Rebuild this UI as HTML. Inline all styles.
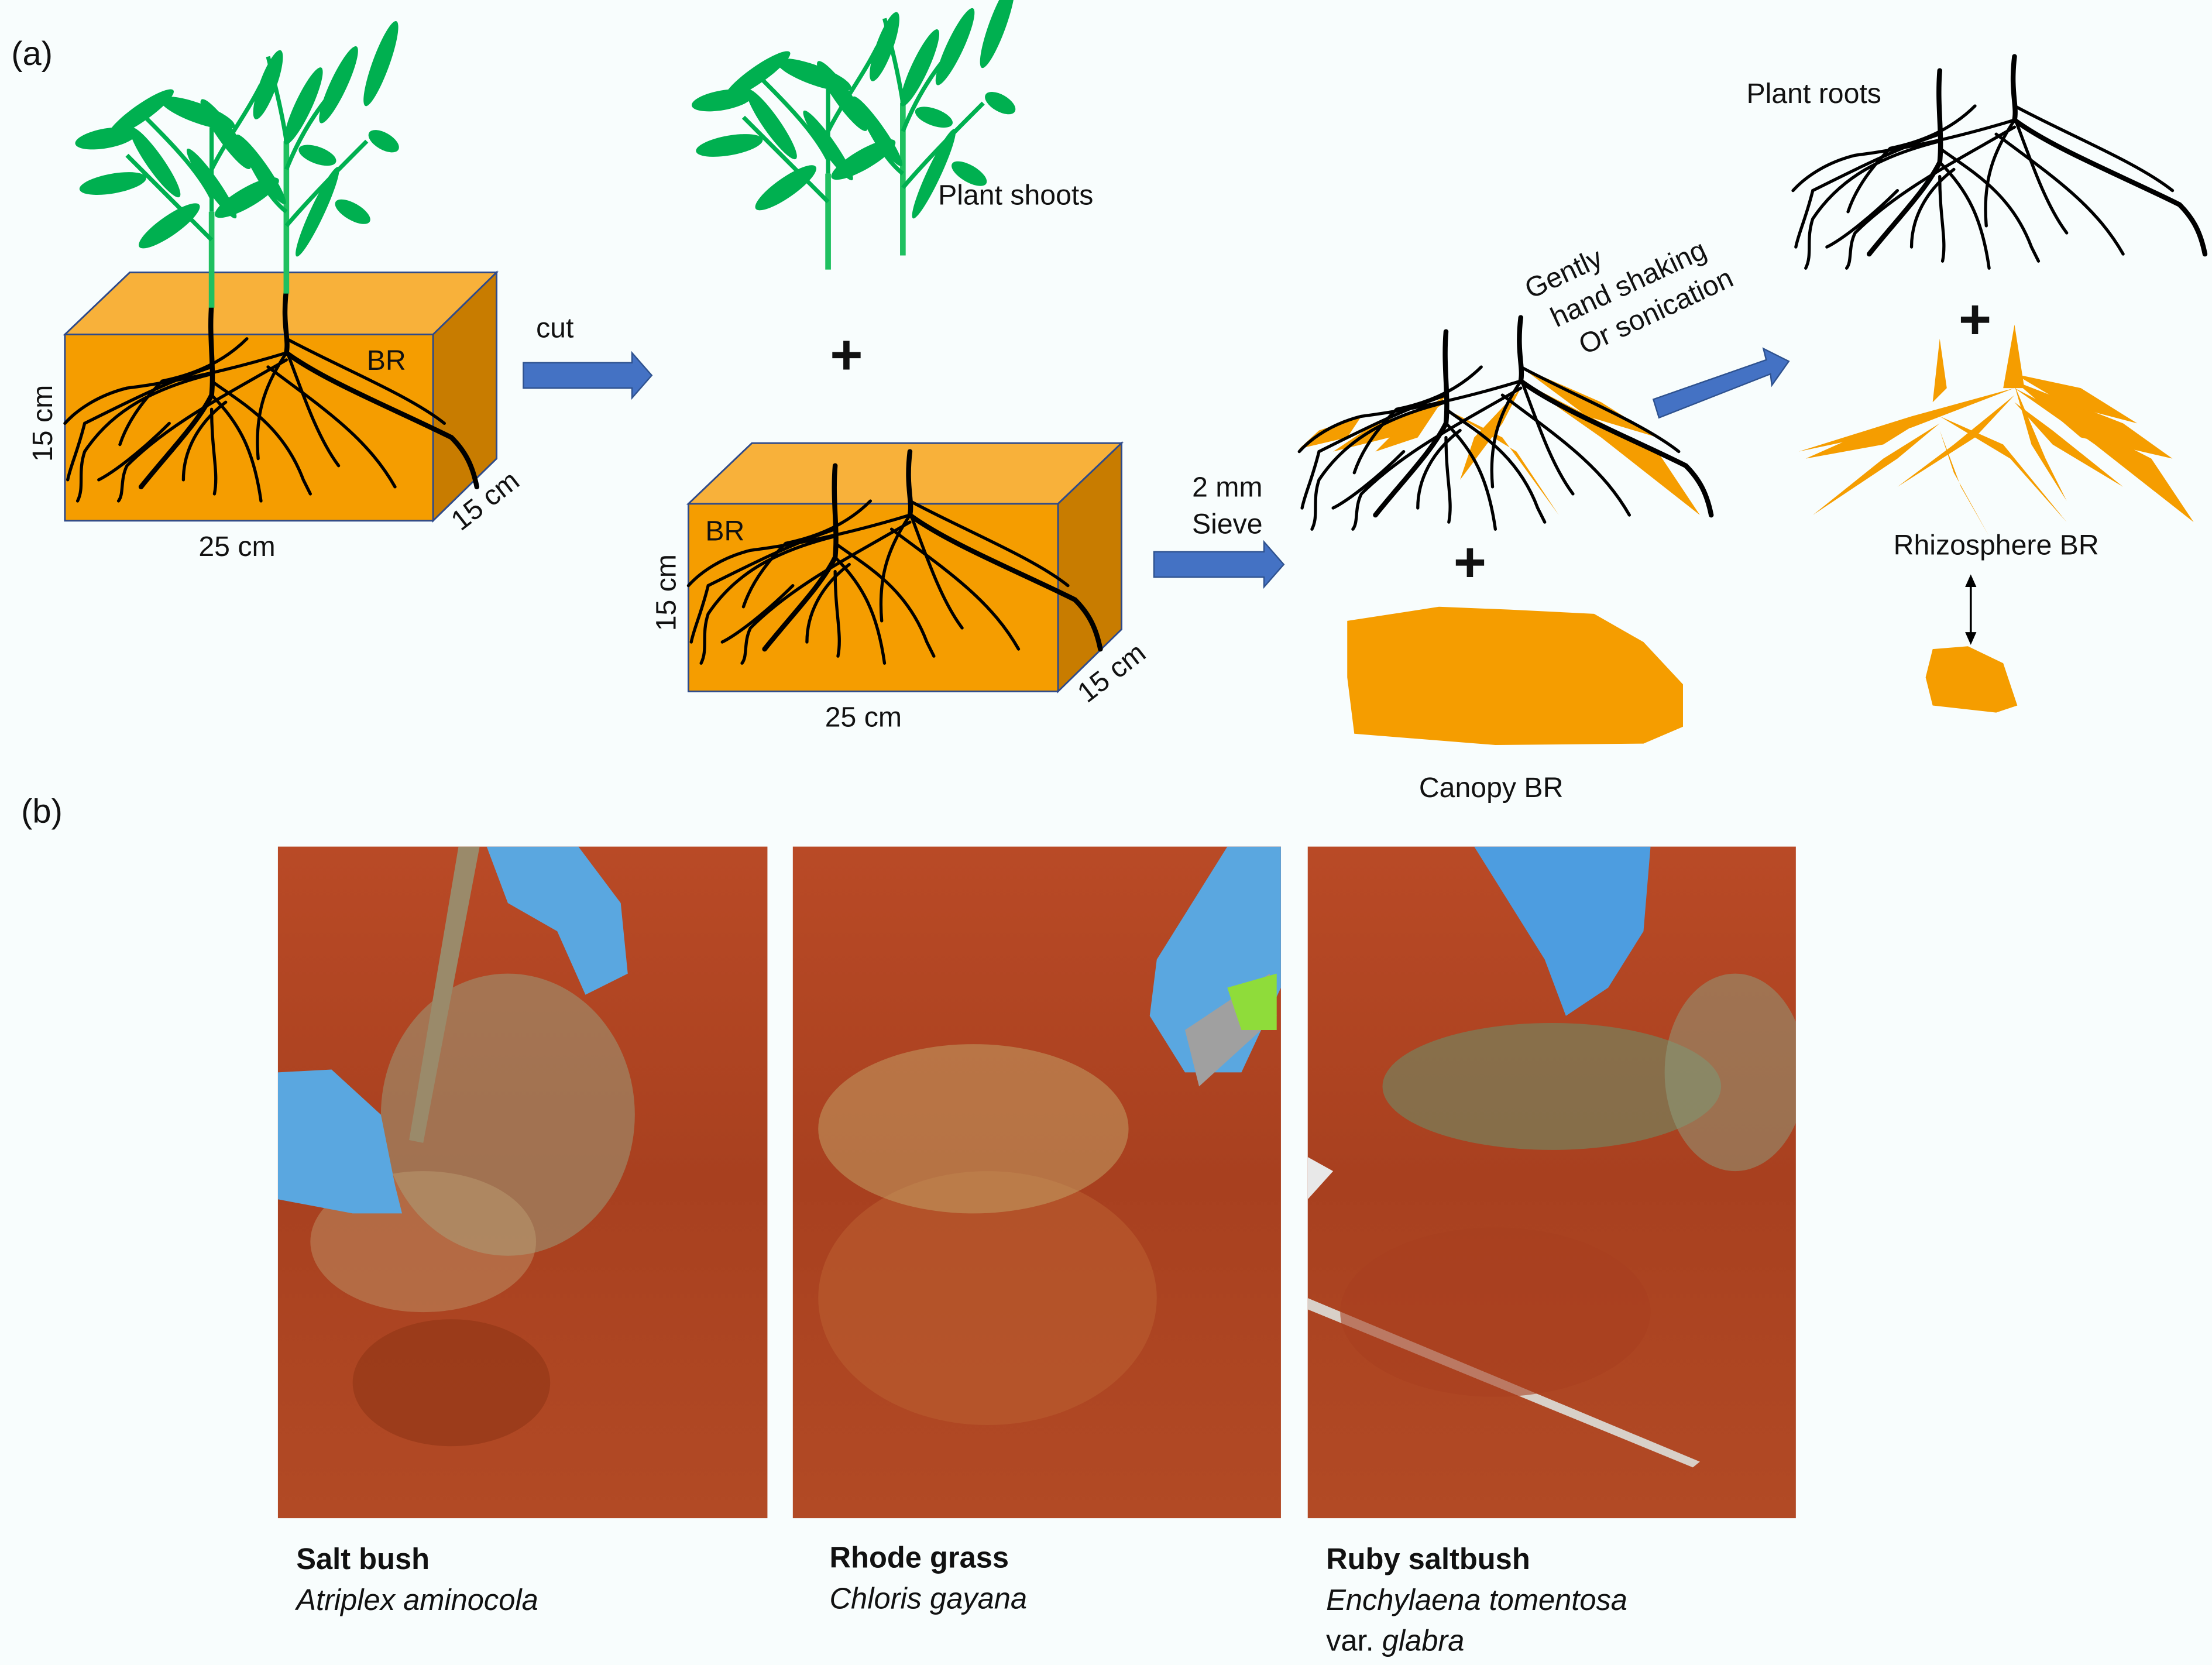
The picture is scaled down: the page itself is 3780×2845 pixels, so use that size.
<!DOCTYPE html>
<html><head><meta charset="utf-8"><style>
html,body{margin:0;padding:0;background:#f8fdfd;}
svg{display:block;}
text{font-family:"Liberation Sans",sans-serif;fill:#111;}
</style></head><body>
<svg width="3780" height="2845" viewBox="0 0 1568 1180" xmlns="http://www.w3.org/2000/svg">
<defs>
<g id="roots" fill="none" stroke="#000" stroke-width="2.2" stroke-linecap="round">
<path d="M150,215 C148,240 152,260 150,280 C140,300 120,320 100,345" stroke-width="3.5"/>
<path d="M150,280 C170,300 180,320 185,355"/>
<path d="M150,260 C120,270 90,285 60,300 C55,320 50,330 48,340"/>
<path d="M150,265 C110,275 80,290 60,320 C55,335 60,345 55,355"/>
<path d="M150,270 C170,285 200,300 215,340 L220,350"/>
<path d="M203,205 C200,230 205,240 203,250 C230,270 280,290 320,310 C330,320 335,330 338,345" stroke-width="3.5"/>
<path d="M203,250 C190,270 180,290 183,325"/>
<path d="M203,240 C240,260 290,280 315,300"/>
<path d="M203,250 C170,260 130,270 90,275 C70,280 55,290 46,300"/>
<path d="M203,255 C160,280 120,300 90,330 C85,340 88,350 84,355"/>
<path d="M203,248 C215,280 225,310 240,330"/>
<path d="M160,285 C140,300 130,320 130,340"/>
<path d="M120,300 C100,320 80,335 70,340"/>
<path d="M175,240 C160,255 140,265 115,270 C100,285 90,300 85,315"/>
<path d="M190,260 C230,290 260,310 280,345"/>
<path d="M150,290 C150,320 155,335 152,350"/>
</g>
<g id="shoots" fill="#00b050" stroke="none">
<rect x="148" y="150" width="4" height="68" fill="#1fc060"/>
<rect x="201" y="100" width="4" height="108" fill="#1fc060"/>
<path d="M150,150 L150,90 M150,140 C140,120 120,100 100,80 M150,120 C160,100 175,80 185,60 M150,170 C130,150 110,130 90,110 M203,100 C200,80 195,60 190,40 M203,120 C215,90 230,70 245,55 M203,150 C190,140 180,120 170,100 M203,160 C220,140 240,120 260,100" stroke="#00b050" stroke-width="3" fill="none"/>
<ellipse cx="100" cy="80" rx="28" ry="6" transform="rotate(-35 100 80)"/>
<ellipse cx="75" cy="98" rx="22" ry="7" transform="rotate(-10 75 98)"/>
<ellipse cx="80" cy="130" rx="24" ry="7" transform="rotate(-10 80 130)"/>
<ellipse cx="110" cy="115" rx="30" ry="6" transform="rotate(55 110 115)"/>
<ellipse cx="140" cy="80" rx="28" ry="7" transform="rotate(20 140 80)"/>
<ellipse cx="160" cy="95" rx="30" ry="6" transform="rotate(55 160 95)"/>
<ellipse cx="120" cy="160" rx="26" ry="7" transform="rotate(-35 120 160)"/>
<ellipse cx="175" cy="140" rx="26" ry="7" transform="rotate(-30 175 140)"/>
<ellipse cx="190" cy="60" rx="26" ry="6" transform="rotate(-70 190 60)"/>
<ellipse cx="215" cy="75" rx="30" ry="6" transform="rotate(-65 215 75)"/>
<ellipse cx="240" cy="60" rx="30" ry="6" transform="rotate(-65 240 60)"/>
<ellipse cx="270" cy="45" rx="32" ry="6" transform="rotate(-70 270 45)"/>
<ellipse cx="272" cy="100" rx="12" ry="6" transform="rotate(30 272 100)"/>
<ellipse cx="225" cy="110" rx="14" ry="6" transform="rotate(20 225 110)"/>
<ellipse cx="250" cy="150" rx="14" ry="6" transform="rotate(30 250 150)"/>
<ellipse cx="185" cy="120" rx="30" ry="5" transform="rotate(55 185 120)"/>
<ellipse cx="225" cy="150" rx="35" ry="5" transform="rotate(-65 225 150)"/>
<ellipse cx="150" cy="130" rx="30" ry="5" transform="rotate(55 150 130)"/>
</g>
<linearGradient id="soil" x1="0" y1="0" x2="0" y2="1">
<stop offset="0" stop-color="#b94a26"/><stop offset="0.5" stop-color="#a8401f"/><stop offset="1" stop-color="#b24a25"/>
</linearGradient>
<clipPath id="c1"><rect x="197" y="600" width="347" height="476"/></clipPath>
<clipPath id="c2"><rect x="562" y="600" width="346" height="476"/></clipPath>
<clipPath id="c3"><rect x="927" y="600" width="346" height="476"/></clipPath>
</defs>

<text x="8" y="46" font-size="24">(a)</text>

<!-- Box 1 -->
<polygon points="46,237 92,193 352,193 307,237" fill="#f8b13a" stroke="#2e4a8a" stroke-width="1.2"/>
<polygon points="307,237 352,193 352,325 307,369" fill="#c87c00" stroke="#2e4a8a" stroke-width="1.2"/>
<rect x="46" y="237" width="261" height="132" fill="#f59d00" stroke="#2e4a8a" stroke-width="1.2"/>
<use href="#roots"/>
<use href="#shoots"/>
<text x="260" y="262" font-size="20">BR</text>
<text x="168" y="394" font-size="20" text-anchor="middle">25 cm</text>
<text transform="translate(37,300) rotate(-90)" font-size="20" text-anchor="middle">15 cm</text>
<text transform="translate(348,360) rotate(-38)" font-size="20" text-anchor="middle">15 cm</text>

<polygon points="371,257 448,257 448,250 462,266 448,282 448,275 371,275" fill="#4472c4" stroke="#2f528f"/>
<text x="380" y="239" font-size="20">cut</text>

<use href="#shoots" transform="translate(437,-27)"/>
<text x="665" y="145" font-size="20">Plant shoots</text>
<text x="600" y="265" font-size="40" text-anchor="middle" font-weight="bold">+</text>

<!-- Box 2 -->
<polygon points="488,357 533,314 795,314 750,357" fill="#f8b13a" stroke="#2e4a8a" stroke-width="1.2"/>
<polygon points="750,357 795,314 795,446 750,490" fill="#c87c00" stroke="#2e4a8a" stroke-width="1.2"/>
<rect x="488" y="357" width="262" height="133" fill="#f59d00" stroke="#2e4a8a" stroke-width="1.2"/>
<use href="#roots" transform="translate(442,115)"/>
<text x="500" y="383" font-size="20">BR</text>
<text x="612" y="515" font-size="20" text-anchor="middle">25 cm</text>
<text transform="translate(479,420) rotate(-90)" font-size="20" text-anchor="middle">15 cm</text>
<text transform="translate(792,482) rotate(-38)" font-size="20" text-anchor="middle">15 cm</text>

<polygon points="818,391 896,391 896,384 910,400 896,416 896,409 818,409" fill="#4472c4" stroke="#2f528f"/>
<text x="870" y="352" font-size="20" text-anchor="middle">2 mm</text>
<text x="870" y="378" font-size="20" text-anchor="middle">Sieve</text>

<g transform="translate(875,20)">
<polygon points="150,260 120,280 100,300 130,290" fill="#f59d00"/>
<polygon points="203,250 260,290 330,345 300,300" fill="#f59d00"/>
<polygon points="203,255 170,290 160,320 190,280" fill="#f59d00"/>
<polygon points="150,270 200,300 230,345 190,290" fill="#f59d00"/>
<polygon points="203,240 260,265 300,290 250,275" fill="#f59d00"/>
<polygon points="150,265 100,280 70,300 110,290" fill="#f59d00"/>
<polygon points="90,275 60,285 46,298 80,290" fill="#f59d00"/>
<use href="#roots"/>
</g>
<text x="1042" y="412" font-size="40" text-anchor="middle" font-weight="bold">+</text>
<polygon points="955,440 1020,430 1070,432 1130,435 1165,455 1193,485 1193,515 1165,527 1060,528 960,520 955,480" fill="#f59d00"/>
<text x="1057" y="565" font-size="20" text-anchor="middle">Canopy BR</text>

<g transform="translate(1085,212) rotate(-25)" font-size="20">
<text x="0" y="0">Gently</text>
<text x="8" y="26">hand shaking</text>
<text x="18" y="52">Or sonication</text>
</g>
<polygon points="1172,283 1252,255 1250,247 1268,256 1256,273 1255,265 1176,296" fill="#4472c4" stroke="#2f528f"/>

<use href="#roots" transform="translate(1225,-165)"/>
<text x="1238" y="73" font-size="20">Plant roots</text>
<text x="1400" y="240" font-size="40" text-anchor="middle" font-weight="bold">+</text>

<g transform="translate(1225,25)" fill="#f59d00">
<polygon points="150,215 155,250 145,260"/>
<polygon points="203,205 210,250 195,250"/>
<polygon points="203,250 260,290 330,345 300,300"/>
<polygon points="203,245 280,275 315,300 250,285"/>
<polygon points="150,265 100,280 55,300 110,290"/>
<polygon points="203,250 130,270 50,295 130,278"/>
<polygon points="150,275 110,300 60,340 120,300"/>
<polygon points="203,255 160,290 120,320 175,285"/>
<polygon points="150,270 200,300 240,345 195,290"/>
<polygon points="203,248 225,300 240,330 215,290"/>
<polygon points="150,280 165,320 185,355 160,310"/>
<polygon points="203,240 250,250 290,275 240,262"/>
<polygon points="203,260 230,280 280,320 230,290"/>
</g>
<text x="1415" y="393" font-size="20" text-anchor="middle">Rhizosphere BR</text>
<line x1="1397" y1="412" x2="1397" y2="452" stroke="#000" stroke-width="1.5"/>
<polygon points="1397,407 1393,416 1401,416" fill="#000"/>
<polygon points="1397,457 1393,448 1401,448" fill="#000"/>
<polygon points="1370,460 1395,458 1420,470 1430,500 1415,505 1370,500 1365,480" fill="#f59d00"/>

<text x="15" y="583" font-size="24">(b)</text>

<rect x="197" y="600" width="347" height="476" fill="url(#soil)"/>
<rect x="562" y="600" width="346" height="476" fill="url(#soil)"/>
<rect x="927" y="600" width="346" height="476" fill="url(#soil)"/>

<g clip-path="url(#c1)">
<ellipse cx="360" cy="790" rx="90" ry="100" fill="#9b9a7a" opacity="0.55"/>
<ellipse cx="300" cy="880" rx="80" ry="50" fill="#c3a77a" opacity="0.4"/>
<polygon points="325,600 340,600 300,810 290,808" fill="#9a8a6a"/>
<path d="M345,600 L410,600 L440,640 L445,690 L415,705 L395,660 L360,640 Z" fill="#5aa7e0"/>
<path d="M197,760 L235,758 L270,790 L280,840 L285,860 L250,860 L197,850 Z" fill="#5aa7e0"/>
<ellipse cx="320" cy="980" rx="70" ry="45" fill="#8f3515" opacity="0.6"/>
</g>
<g clip-path="url(#c2)">
<ellipse cx="700" cy="920" rx="120" ry="90" fill="#b85a2e" opacity="0.7"/>
<ellipse cx="690" cy="800" rx="110" ry="60" fill="#c4a66a" opacity="0.5"/>
<path d="M870,600 L908,600 L908,700 L880,760 L840,760 L815,720 L820,680 Z" fill="#5aa7e0"/>
<polygon points="840,730 900,690 905,720 850,770" fill="#a0a0a0"/>
<polygon points="870,700 905,690 905,730 880,730" fill="#8fdc3a"/>
</g>
<g clip-path="url(#c3)">
<path d="M1045,600 L1170,600 L1165,660 L1140,700 L1110,720 L1095,680 Z" fill="#4d9de0"/>
<ellipse cx="1100" cy="770" rx="120" ry="45" fill="#6e8c66" opacity="0.6"/>
<ellipse cx="1230" cy="760" rx="50" ry="70" fill="#8da080" opacity="0.5"/>
<polygon points="927,820 945,830 927,850" fill="#e8e8e8"/>
<polygon points="927,920 1205,1036 1200,1040 927,928" fill="#d8d0c8"/>
<ellipse cx="1060" cy="930" rx="110" ry="60" fill="#a84020" opacity="0.6"/>
</g>

<text x="210" y="1112" font-size="21" font-weight="bold">Salt bush</text>
<text x="210" y="1141" font-size="21" font-style="italic">Atriplex aminocola</text>
<text x="588" y="1111" font-size="21" font-weight="bold">Rhode grass</text>
<text x="588" y="1140" font-size="21" font-style="italic">Chloris gayana</text>
<text x="940" y="1112" font-size="21" font-weight="bold">Ruby saltbush</text>
<text x="940" y="1141" font-size="21" font-style="italic">Enchylaena tomentosa</text>
<text x="940" y="1170" font-size="21">var. <tspan font-style="italic">glabra</tspan></text>
</svg>
</body></html>
